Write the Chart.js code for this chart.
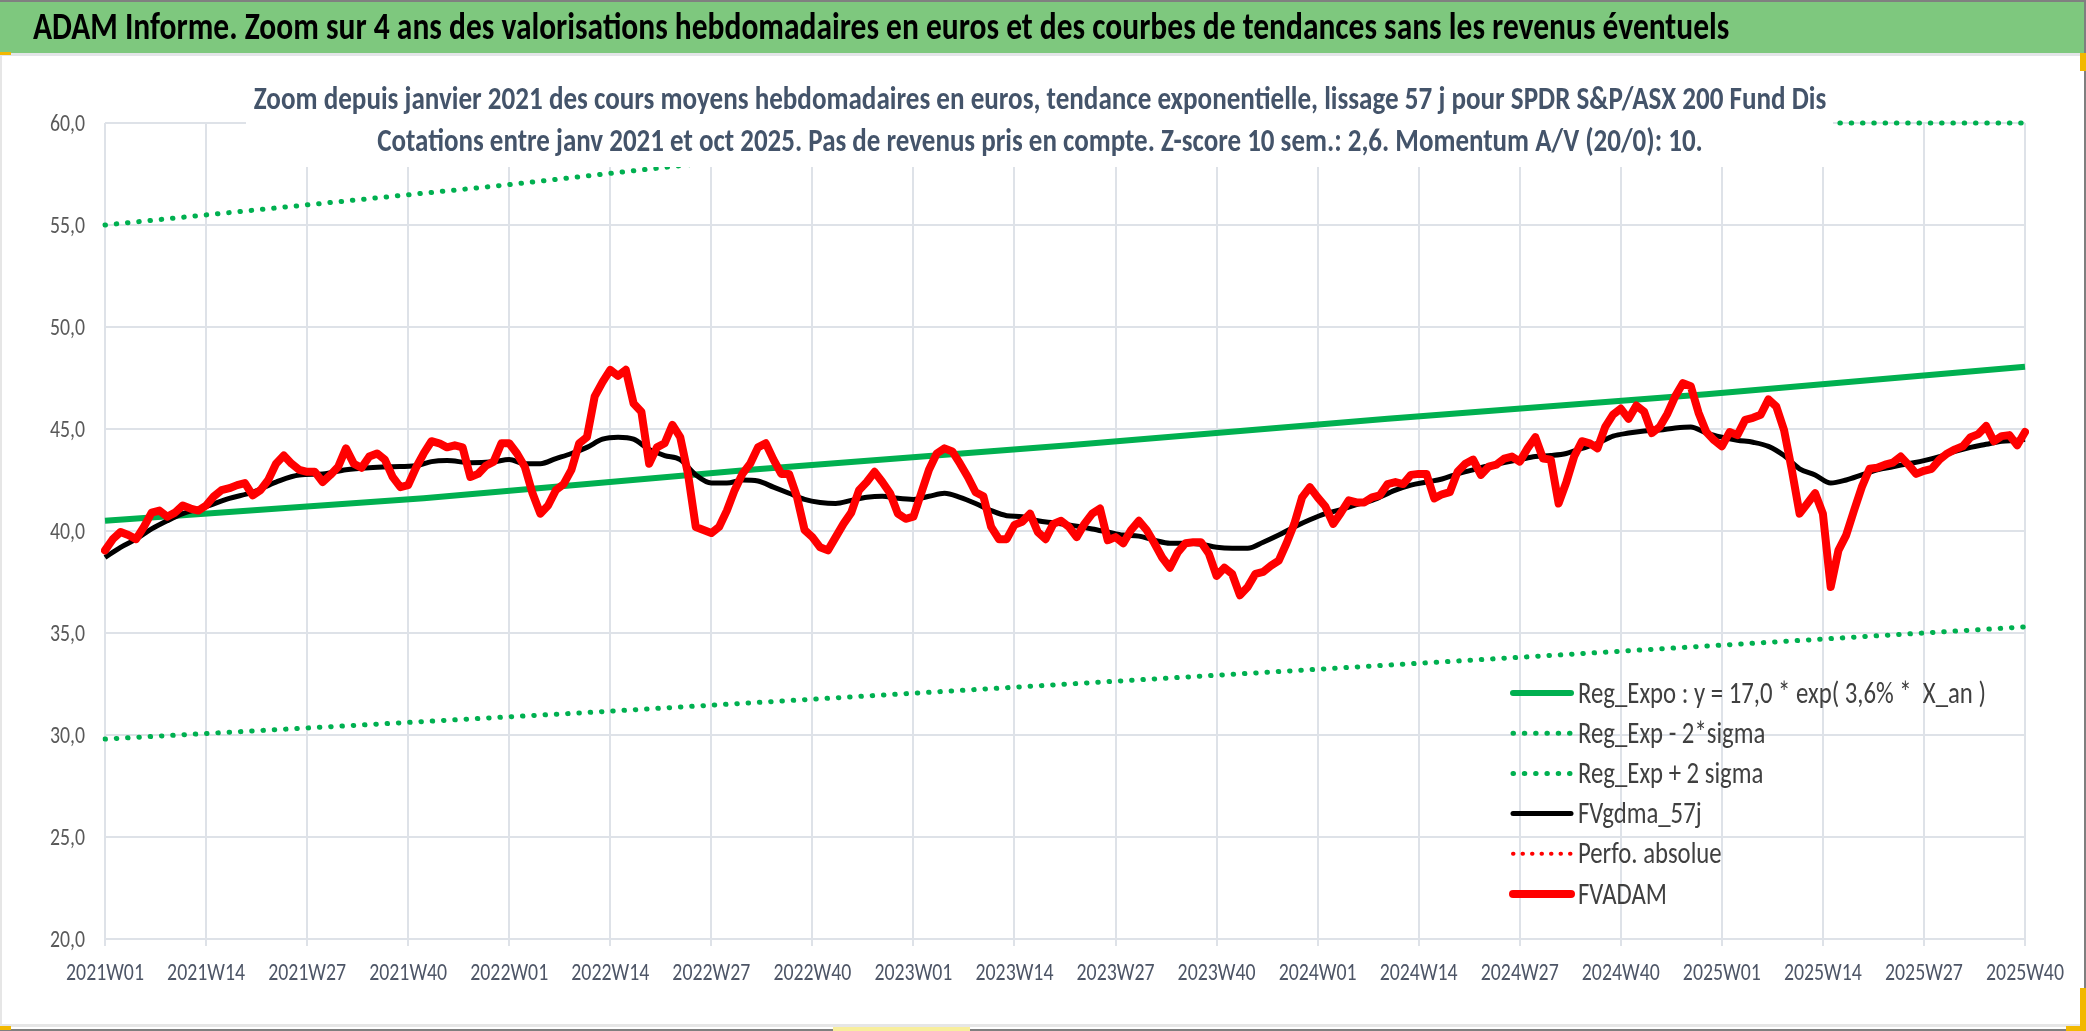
<!DOCTYPE html>
<html lang="fr">
<head>
<meta charset="utf-8">
<title>ADAM Informe - SPDR S&P/ASX 200 Fund Dis</title>
<script src="https://cdn.jsdelivr.net/npm/chart.js@4.4.1/dist/chart.umd.min.js"></script>
<style>
  html, body { margin: 0; padding: 0; background: #fff; overflow: hidden; }
  canvas { display: block; }
</style>
</head>
<body>
<canvas id="adamChart" width="2086" height="1031"></canvas>
<script>
// semaines 2021W01 .. 2025W40 (248 cotations hebdo)
const weeks = [];
for (let y = 2021; y <= 2025; y++) {
  for (let w = 1; w <= 52; w++) {
    if (y === 2025 && w > 40) break;
    weeks.push(y + 'W' + String(w).padStart(2, '0'));
  }
}

// FVADAM : cours moyen hebdo en euros
const fvadam = [
  39.05, 39.6, 39.95, 39.8, 39.6, 40.2, 40.9, 41.0, 40.7, 40.9,
  41.25, 41.1, 41.0, 41.25, 41.7, 42.0, 42.1, 42.25, 42.35, 41.75,
  42.0, 42.5, 43.3, 43.7, 43.3, 43.0, 42.9, 42.9, 42.4, 42.75,
  43.15, 44.05, 43.3, 43.1, 43.65, 43.8, 43.5, 42.65, 42.15, 42.25,
  43.1, 43.8, 44.4, 44.3, 44.1, 44.2, 44.1, 42.65, 42.8, 43.2,
  43.4, 44.3, 44.3, 43.8, 43.15, 41.85, 40.85, 41.25, 42.0, 42.3,
  43.0, 44.3, 44.6, 46.6, 47.3, 47.9, 47.6, 47.9, 46.25, 45.85,
  43.3, 44.1, 44.3, 45.2, 44.6, 42.8, 40.2, 40.05, 39.9, 40.2,
  41.0, 42.0, 42.8, 43.3, 44.1, 44.3, 43.5, 42.8, 42.8, 41.7,
  40.05, 39.7, 39.2, 39.05, 39.7, 40.35, 40.9, 42.0, 42.4, 42.9,
  42.4, 41.85, 40.85, 40.6, 40.7, 41.85, 43.0, 43.8, 44.05, 43.9,
  43.3, 42.65, 41.9, 41.7, 40.2, 39.6, 39.6, 40.3, 40.45, 40.85,
  39.95, 39.6, 40.35, 40.5, 40.2, 39.7, 40.35, 40.85, 41.1, 39.55,
  39.7, 39.4, 40.05, 40.5, 40.05, 39.4, 38.7, 38.2, 38.95, 39.4,
  39.45, 39.45, 38.9, 37.8, 38.2, 37.9, 36.85, 37.25, 37.9, 38.0,
  38.3, 38.55, 39.4, 40.35, 41.65, 42.15, 41.65, 41.2, 40.35, 40.9,
  41.5, 41.4, 41.4, 41.65, 41.75, 42.3, 42.4, 42.3, 42.75, 42.8,
  42.8, 41.6, 41.8, 41.9, 42.9, 43.3, 43.5, 42.75, 43.15, 43.25,
  43.55, 43.65, 43.4, 44.05, 44.6, 43.55, 43.5, 41.35, 42.4, 43.65,
  44.4, 44.3, 44.05, 45.1, 45.7, 46.0, 45.5, 46.15, 45.85, 44.8,
  45.1, 45.75, 46.6, 47.25, 47.1, 45.8, 44.85, 44.45, 44.15, 44.85,
  44.7, 45.45, 45.55, 45.7, 46.45, 46.1, 44.95, 43.0, 40.85, 41.35,
  41.85, 40.85, 37.25, 39.05, 39.8, 41.0, 42.15, 43.05, 43.1, 43.25,
  43.35, 43.65, 43.25, 42.8, 42.95, 43.05, 43.5, 43.8, 44.0, 44.15,
  44.6, 44.75, 45.15, 44.4, 44.65, 44.7, 44.2, 44.85
];

// FVgdma_57j : moyenne lissee, lue une semaine sur deux ou trois
const gdmaWeek = [
  0, 2, 4, 6, 8, 10, 13, 16, 19, 22, 25, 28, 31, 34, 37, 40, 42, 44, 47, 50,
  52, 54, 56, 58, 60, 62, 64, 66, 68, 70, 72, 74, 76, 78, 80, 82, 84, 86, 88, 90,
  92, 94, 96, 98, 100, 102, 104, 106, 108, 110, 112, 114, 116, 118, 120, 122, 124, 127, 129, 131,
  133, 135, 137, 139, 141, 143, 145, 147, 149, 151, 153, 155, 157, 159, 161, 163, 166, 168, 170, 172,
  174, 176, 178, 180, 182, 184, 186, 188, 190, 192, 194, 196, 198, 200, 202, 204, 206, 208, 210, 212,
  214, 216, 218, 220, 222, 224, 226, 228, 230, 232, 234, 236, 238, 240, 242, 244, 246, 247
];
const gdmaValue = [
  38.7, 39.2, 39.6, 40.1, 40.5, 40.85, 41.2, 41.6, 41.9, 42.4, 42.75, 42.8, 43.0, 43.1, 43.15, 43.2, 43.4, 43.45, 43.35, 43.4,
  43.5, 43.3, 43.3, 43.55, 43.8, 44.1, 44.5, 44.6, 44.5, 44.0, 43.7, 43.5, 42.75, 42.35, 42.35, 42.5, 42.45, 42.15, 41.85, 41.55,
  41.4, 41.35, 41.5, 41.65, 41.7, 41.6, 41.55, 41.7, 41.85, 41.65, 41.35, 41.0, 40.75, 40.7, 40.5, 40.4, 40.3, 40.1, 39.95, 39.8,
  39.75, 39.55, 39.4, 39.4, 39.35, 39.2, 39.15, 39.15, 39.45, 39.8, 40.2, 40.55, 40.85, 41.05, 41.3, 41.5, 42.0, 42.25, 42.4, 42.55,
  42.8, 43.0, 43.2, 43.35, 43.5, 43.65, 43.7, 43.8, 44.05, 44.3, 44.65, 44.8, 44.9, 44.95, 45.05, 45.1, 44.8, 44.6, 44.45, 44.35,
  44.15, 43.7, 43.05, 42.75, 42.35, 42.5, 42.75, 43.0, 43.15, 43.3, 43.45, 43.65, 43.9, 44.1, 44.25, 44.4, 44.45, 44.5
];

// tendance exponentielle et bandes +/- 2 sigma (quelques points lus)
const regWeek = [0, 41, 83, 124, 165, 206, 247];
const regValue = [40.5, 41.6, 43.0, 44.2, 45.5, 46.7, 48.05];
const lowWeek = [0, 62, 124, 186, 247];
const lowValue = [29.8, 31.1, 32.5, 33.9, 35.3];
const highWeek = [0, 50, 100, 126, 247];
const highValue = [55.0, 56.9, 59.0, 60.0, 60.0];

const yTicks = [20, 25, 30, 35, 40, 45, 50, 55, 60];

const bannerText = 'ADAM Informe. Zoom sur 4 ans des valorisations hebdomadaires en euros et des courbes de tendances sans les revenus \u00e9ventuels';
const subtitle1 = 'Zoom depuis janvier 2021 des cours moyens hebdomadaires en euros, tendance exponentielle, lissage 57 j pour SPDR S&P/ASX 200 Fund Dis';
const subtitle2 = 'Cotations entre janv 2021 et oct 2025. Pas de revenus pris en compte. Z-score 10 sem.: 2,6. Momentum A/V (20/0): 10.';

function toPoints(idx, vals) {
  return idx.map((i, k) => ({ x: weeks[i], y: vals[k] }));
}

// choix d'une police etroite (type Calibri) parmi celles installees
const measureCtx = document.createElement('canvas').getContext('2d');
function hasFont(name) {
  const s = 'mmmmmmmmmmlli 2021W01 Zoom';
  measureCtx.font = '40px monospace';
  const a = measureCtx.measureText(s).width;
  measureCtx.font = '40px "' + name + '", monospace';
  return measureCtx.measureText(s).width !== a;
}
const FAMILY = ['Carlito', 'Liberation Sans Narrow', 'DejaVu Sans Condensed', 'Liberation Sans'].find(hasFont) || 'sans-serif';

function fitSize(text, weight, width) {
  measureCtx.font = weight + ' 100px "' + FAMILY + '"';
  return 100 * width / measureCtx.measureText(text).width;
}

// le graphique d'origine est un peu etire en hauteur
const STRETCH = 1.2;

const bannerSize = fitSize(bannerText, 'bold', 1697);
const sub1Size = fitSize(subtitle1, 'bold', 1573);
const sub2Size = fitSize(subtitle2, 'bold', 1326);
const xTickSize = fitSize('2021W01', 'normal', 78);
const yTickSize = fitSize('60,0', 'normal', 35);
const legendSize = fitSize('Reg_Expo : y = 17,0 * exp( 3,6% *  X_an )', 'normal', 408);

function capHeight(c) {
  return c.measureText('H0').actualBoundingBoxAscent;
}

// texte etire verticalement, y = ligne de base
function tallText(c, text, x, y) {
  c.save();
  c.translate(x, y);
  c.scale(1, STRETCH);
  c.fillText(text, 0, 0);
  c.restore();
}

// texte etire centre verticalement sur y
function tallTextMid(c, text, x, y) {
  tallText(c, text, x, y + capHeight(c) * STRETCH / 2);
}

const frame = {
  id: 'frame',
  beforeDraw(chart) {
    const c = chart.ctx;
    c.save();
    c.fillStyle = '#fff';
    c.fillRect(0, 0, chart.width, chart.height);
    // bandeau vert
    c.fillStyle = '#7EC87E';
    c.fillRect(0, 0, chart.width, 53);
    c.fillStyle = '#808080';
    c.fillRect(0, 0, chart.width, 2);
    c.fillStyle = '#E3E5E8';
    c.fillRect(0, 53, chart.width, 3);
    c.fillStyle = '#000';
    c.font = 'bold ' + bannerSize + 'px "' + FAMILY + '"';
    c.textBaseline = 'alphabetic';
    c.textAlign = 'left';
    tallText(c, bannerText, 33, 39);
    // bords
    c.fillStyle = '#E6E6E6';
    c.fillRect(0, 56, 2, chart.height - 56);
    c.fillRect(0, 1024, chart.width, 3);
    c.fillStyle = '#7F7F7F';
    c.fillRect(0, 1029, chart.width, 2);
    c.fillRect(chart.width - 2, 0, 2, chart.height);
    c.fillStyle = '#F2B800';
    c.fillRect(0, 52, 11, 3);
    c.fillRect(chart.width - 6, 53, 6, 18);
    c.fillRect(chart.width - 6, 988, 6, 43);
    c.fillRect(chart.width - 20, 1026, 20, 5);
    c.fillRect(0, 1026, 11, 4);
    c.fillStyle = '#F8EE9C';
    c.fillRect(833, 1027, 137, 4);
    c.restore();
  }
};

// libelles des axes, places avec les echelles de Chart.js
const axisLabels = {
  id: 'axisLabels',
  afterDraw(chart) {
    const c = chart.ctx;
    const xs = chart.scales.x, ys = chart.scales.y;
    c.save();
    c.textBaseline = 'alphabetic';
    c.fillStyle = '#4D5566';
    c.textAlign = 'center';
    c.font = xTickSize + 'px "' + FAMILY + '"';
    weeks.forEach((w, i) => {
      if (i % 13 === 0) tallTextMid(c, w, xs.getPixelForTick(i), 972);
    });
    c.fillStyle = '#595959';
    c.textAlign = 'right';
    c.font = yTickSize + 'px "' + FAMILY + '"';
    yTicks.forEach(v => {
      tallTextMid(c, v.toFixed(1).replace('.', ','), 85, ys.getPixelForValue(v));
    });
    c.restore();
  }
};

const subtitles = {
  id: 'subtitles',
  afterDatasetsDraw(chart) {
    const c = chart.ctx;
    c.save();
    c.fillStyle = '#fff';
    c.fillRect(246, 60, 1587, 107);
    c.fillStyle = '#44546A';
    c.textAlign = 'center';
    c.textBaseline = 'alphabetic';
    c.font = 'bold ' + sub1Size + 'px "' + FAMILY + '"';
    tallText(c, subtitle1, 1040, 109);
    c.font = 'bold ' + sub2Size + 'px "' + FAMILY + '"';
    tallText(c, subtitle2, 1040, 151);
    c.restore();
  }
};

const insideLegend = {
  id: 'insideLegend',
  afterDraw(chart) {
    const c = chart.ctx;
    const x0 = 1511, x1 = 1573, tx = 1578, y0 = 693, step = 40.2;
    c.save();
    c.font = legendSize + 'px "' + FAMILY + '"';
    c.textAlign = 'left';
    c.textBaseline = 'alphabetic';
    chart.data.datasets.forEach((ds, i) => {
      const y = y0 + i * step;
      c.beginPath();
      c.strokeStyle = ds.borderColor;
      c.lineWidth = ds.borderWidth;
      c.lineCap = 'round';
      c.setLineDash(ds.borderDash || []);
      c.moveTo(x0 + 2, y);
      c.lineTo(x1 - 2, y);
      c.stroke();
      c.setLineDash([]);
      c.fillStyle = '#404040';
      tallTextMid(c, ds.label, tx, y);
    });
    c.restore();
  }
};

const gridColor = '#DEE2E8';

new Chart(document.getElementById('adamChart'), {
  type: 'line',
  data: {
    labels: weeks,
    datasets: [
      {
        label: 'Reg_Expo : y = 17,0 * exp( 3,6% *  X_an )',
        data: toPoints(regWeek, regValue),
        borderColor: '#00B050', borderWidth: 6, pointRadius: 0, order: 2
      },
      {
        label: 'Reg_Exp - 2*sigma',
        data: toPoints(lowWeek, lowValue),
        borderColor: '#00B050', borderWidth: 5, borderDash: [0.5, 10.8],
        borderCapStyle: 'round', pointRadius: 0, order: 3
      },
      {
        label: 'Reg_Exp + 2 sigma',
        data: toPoints(highWeek, highValue),
        borderColor: '#00B050', borderWidth: 5, borderDash: [0.5, 10.8],
        borderCapStyle: 'round', pointRadius: 0, order: 3, clip: 8
      },
      {
        label: 'FVgdma_57j',
        data: toPoints(gdmaWeek, gdmaValue),
        borderColor: '#000000', borderWidth: 5, pointRadius: 0,
        cubicInterpolationMode: 'monotone', order: 1
      },
      {
        label: 'Perfo. absolue',
        data: [],
        borderColor: '#FF0000', borderWidth: 4, borderDash: [0.5, 9],
        borderCapStyle: 'round', pointRadius: 0, order: 4
      },
      {
        label: 'FVADAM',
        data: fvadam,
        borderColor: '#FF0000', borderWidth: 8, pointRadius: 0,
        borderJoinStyle: 'round', borderCapStyle: 'round', tension: 0, order: 0
      }
    ]
  },
  options: {
    responsive: false,
    devicePixelRatio: 1,
    animation: false,
    events: [],
    layout: { padding: { top: 123, right: 61, bottom: 0, left: 0 } },
    plugins: {
      legend: { display: false },
      title: { display: false },
      tooltip: { enabled: false }
    },
    scales: {
      x: {
        type: 'category',
        offset: false,
        afterFit: s => { s.height = 92; },
        grid: {
          color: ctx => (ctx.index % 13 === 0 ? gridColor : 'rgba(0,0,0,0)'),
          lineWidth: 2,
          drawTicks: true,
          tickLength: 7
        },
        border: { display: true, color: gridColor, width: 2 },
        ticks: { display: false, autoSkip: false, maxRotation: 0, minRotation: 0 }
      },
      y: {
        min: yTicks[0],
        max: yTicks[yTicks.length - 1],
        afterFit: s => { s.width = 105; },
        afterBuildTicks: s => { s.ticks = yTicks.map(v => ({ value: v })); },
        grid: { color: gridColor, lineWidth: 2, drawTicks: false },
        border: { display: false },
        ticks: { display: false }
      }
    }
  },
  plugins: [frame, axisLabels, subtitles, insideLegend]
});
</script>
</body>
</html>
